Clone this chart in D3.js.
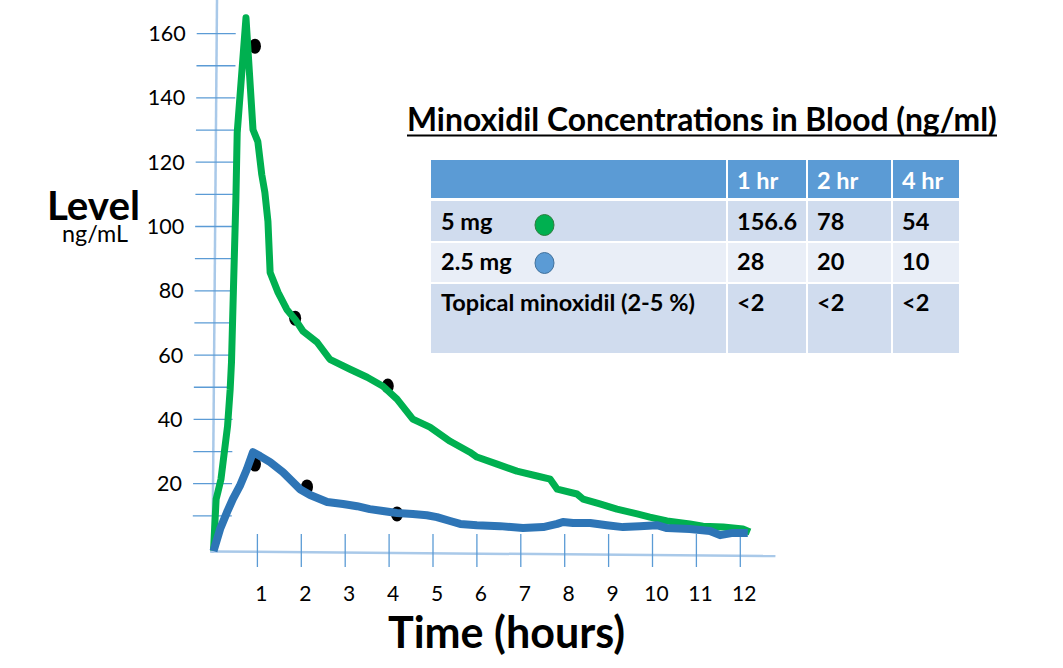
<!DOCTYPE html>
<html><head><meta charset="utf-8">
<script src="https://cdn.jsdelivr.net/npm/d3@7"></script>
<style>body{margin:0;background:#fff;} svg{display:block;font-family:Lato,"Open Sans",sans-serif;}</style>
</head><body>
<svg id="c" width="1063" height="668"></svg>
<script>
// ---- data ----
const greenT = [0, 0.06, 0.10, 0.17, 0.32, 0.38, 0.41, 0.46, 0.51, 0.54, 0.74, 0.90, 1.01, 1.10, 1.17, 1.24, 1.29, 1.47, 1.67, 1.86, 2.04, 2.36, 2.65, 3.11, 3.50, 3.86, 4.18, 4.54, 4.93, 5.39, 5.84, 6.00, 6.46, 6.91, 7.37, 7.67, 7.83, 8.28, 8.42, 8.80, 9.19, 9.65, 9.94, 10.33, 10.85, 11.15, 11.61, 12.06, 12.22];
const greenV = [-0.8, 15.2, 17.4, 21.4, 37.9, 49.4, 57.8, 83.5, 108.4, 129.2, 164.9, 130.1, 126.4, 116.1, 110.6, 101.6, 85.7, 79.5, 74.2, 71.1, 67.4, 64.0, 58.7, 55.6, 53.1, 50.3, 46.3, 40.1, 37.6, 33.2, 29.8, 28.3, 26.1, 23.9, 22.4, 21.4, 18.3, 16.8, 15.2, 13.7, 12.1, 10.6, 9.6, 8.4, 7.5, 6.8, 6.5, 5.9, 5.0];
const blueT = [0, 0.15, 0.31, 0.44, 0.60, 0.76, 0.90, 1.06, 1.29, 1.58, 1.81, 1.97, 2.20, 2.59, 2.95, 3.27, 3.56, 3.86, 4.18, 4.54, 4.86, 5.09, 5.39, 5.62, 6.00, 6.53, 7.05, 7.51, 7.83, 7.96, 8.19, 8.58, 8.96, 9.33, 9.71, 10.10, 10.33, 10.85, 11.31, 11.54, 11.83, 12.17];
const blueV = [-1.0, 5.9, 11.2, 15.2, 19.3, 24.5, 29.8, 28.6, 26.7, 23.6, 20.5, 18.3, 16.5, 14.3, 13.7, 13.0, 12.1, 11.5, 10.9, 10.6, 10.2, 9.6, 8.4, 7.5, 7.1, 6.8, 6.2, 6.5, 7.5, 8.1, 7.8, 7.8, 7.1, 6.5, 6.8, 7.1, 6.2, 5.9, 5.3, 4.0, 4.7, 4.7];
const dotGreenT = [0.945, 1.86, 3.97];
const dotGreenV = [156.1, 71.5, 50.4];
const dotBlueT = [0.945, 2.13, 4.18];
const dotBlueV = [26.1, 19.0, 10.6];
const xTickValues = [1, 2, 3, 4, 5, 6, 7, 8, 9, 10, 11, 12];
const yTickValues = [10, 20, 30, 40, 50, 60, 70, 80, 90, 100, 110, 120, 130, 140, 150, 160];
const yLabelValues = [20, 40, 60, 80, 100, 120, 140, 160];
const yAxisTitle = "Level";
const yAxisUnit = "ng/mL";
const xAxisTitle = "Time (hours)";
const tableTitle = "Minoxidil Concentrations in Blood (ng/ml)";
const tableHeader = ["", "1 hr", "2 hr", "4 hr"];
const tableRowLabels = ["5 mg", "2.5 mg", "Topical minoxidil (2-5 %)"];
const tableCol1hr = ["156.6", "28", "<2"];
const tableCol2hr = ["78", "20", "<2"];
const tableCol4hr = ["54", "10", "<2"];
const legendColors = ["#00b050", "#5b9bd5", null];

// ---- drawing ----
const svg = d3.select("#c");
const x = d3.scaleLinear().domain([0, 12]).range([213.5, 740.3]);
const y = d3.scaleLinear().domain([0, 160]).range([548, 33.6]);

function fit(sel, w) {
  const n = sel.node();
  const fs = parseFloat(sel.attr("font-size"));
  const len = n.getComputedTextLength();
  sel.attr("font-size", fs * w / len);
  return fs * w / len;
}
function fitSize(str, weight, w) {
  const t = svg.append("text").attr("font-size", 20).attr("font-weight", weight).text(str);
  const s = fit(t, w); t.remove(); return s;
}

// axes
const axisX = yy => 217 - 4.5 * (yy / 553);
svg.append("line").attr("x1", axisX(0)).attr("y1", 0).attr("x2", axisX(553)).attr("y2", 553)
  .attr("stroke", "#a9c9e9").attr("stroke-width", 2.5);
svg.append("line").attr("x1", x(-0.08)).attr("y1", y(0) + 3.5).attr("x2", x(12.8)).attr("y2", y(0) + 8)
  .attr("stroke", "#a9c9e9").attr("stroke-width", 2.5);

const yLabSize = 21.5;
yTickValues.forEach(v => {
  const yy = y(v), ax = axisX(yy);
  svg.append("line").attr("x1", ax - 20).attr("x2", ax + 19).attr("y1", yy).attr("y2", yy)
    .attr("stroke", "#5b9bd5").attr("stroke-width", 1.3);
});
yLabelValues.forEach(v => {
  const yy = y(v), ax = axisX(yy);
  svg.append("text").attr("x", ax - 31).attr("y", yy + 7.5).attr("text-anchor", "end")
    .attr("font-size", yLabSize).attr("fill", "#000").text(v);
});
const xLabSize = 21;
xTickValues.forEach(t => {
  svg.append("line").attr("x1", x(t)).attr("x2", x(t)).attr("y1", 534).attr("y2", 567)
    .attr("stroke", "#5b9bd5").attr("stroke-width", 1.3);
  svg.append("text").attr("x", x(t) + 4).attr("y", 601).attr("text-anchor", "middle")
    .attr("font-size", xLabSize).attr("fill", "#000").text(t);
});

// axis titles
const yt = svg.append("text");
const lv = yt.append("tspan").attr("x", 47).attr("y", 220).attr("font-size", 40).attr("font-weight", 700).text(yAxisTitle);
fit(lv, 93);
const un = yt.append("tspan").attr("x", 62).attr("y", 242).attr("font-size", 20).attr("font-weight", 400).text(yAxisUnit);
fit(un, 66);
const tt = svg.append("text").attr("x", 388).attr("y", 648).attr("font-size", 40).attr("font-weight", 700).text(xAxisTitle);
fit(tt, 237);

// dots (behind lines)
dotGreenT.concat(dotBlueT).forEach((t, i) => {
  const v = i < 3 ? dotGreenV[i] : dotBlueV[i - 3];
  svg.append("ellipse").attr("cx", x(t)).attr("cy", y(v)).attr("rx", 6).attr("ry", 7.5).attr("fill", "#000");
});

// lines
const line = d3.line().x(d => x(d[0])).y(d => y(d[1])).curve(d3.curveLinear);
svg.append("path").datum(greenT.map((t, i) => [t, greenV[i]])).attr("d", line)
  .attr("fill", "none").attr("stroke", "#00b050").attr("stroke-width", 7)
  .attr("stroke-linejoin", "round").attr("stroke-linecap", "butt");
svg.append("path").datum(blueT.map((t, i) => [t, blueV[i]])).attr("d", line)
  .attr("fill", "none").attr("stroke", "#2e75b6").attr("stroke-width", 8)
  .attr("stroke-linejoin", "round").attr("stroke-linecap", "butt");

// table title
const ti = svg.append("text").attr("x", 407).attr("y", 131).attr("font-size", 30).attr("font-weight", 700).text(tableTitle);
fit(ti, 590);
svg.append("rect").attr("x", 407).attr("y", 134.5).attr("width", 590).attr("height", 2).attr("fill", "#000");

// table
const colEdges = [[431, 726], [728, 806], [808, 891], [893, 959]];
const rowEdges = [[160, 198], [201, 241], [243, 282], [284, 353]];
const rowFill = ["#5b9bd5", "#d0dcee", "#e9eef7", "#d0dcee"];
const baselines = [189, 230, 270, 311];
const textX = [441, 737, 817, 902];
const tabSize = fitSize(tableRowLabels[2], 700, 254);
const rows = [tableHeader].concat(tableRowLabels.map((l, i) => [l, tableCol1hr[i], tableCol2hr[i], tableCol4hr[i]]));
rows.forEach((r, ri) => {
  r.forEach((c, ci) => {
    svg.append("rect").attr("x", colEdges[ci][0]).attr("y", rowEdges[ri][0])
      .attr("width", colEdges[ci][1] - colEdges[ci][0]).attr("height", rowEdges[ri][1] - rowEdges[ri][0])
      .attr("fill", rowFill[ri]);
    if (c) svg.append("text").attr("x", textX[ci]).attr("y", baselines[ri]).attr("font-size", tabSize)
      .attr("font-weight", 700).attr("fill", ri === 0 ? "#fff" : "#000").text(c);
  });
});
legendColors.forEach((col, i) => {
  if (!col) return;
  svg.append("ellipse").attr("cx", 544.5).attr("cy", i === 0 ? 225 : 263).attr("rx", 9.5).attr("ry", 10.5)
    .attr("fill", col).attr("stroke", i === 0 ? "#2f7d3f" : "#41719c").attr("stroke-width", 1);
});
</script>
</body></html>
